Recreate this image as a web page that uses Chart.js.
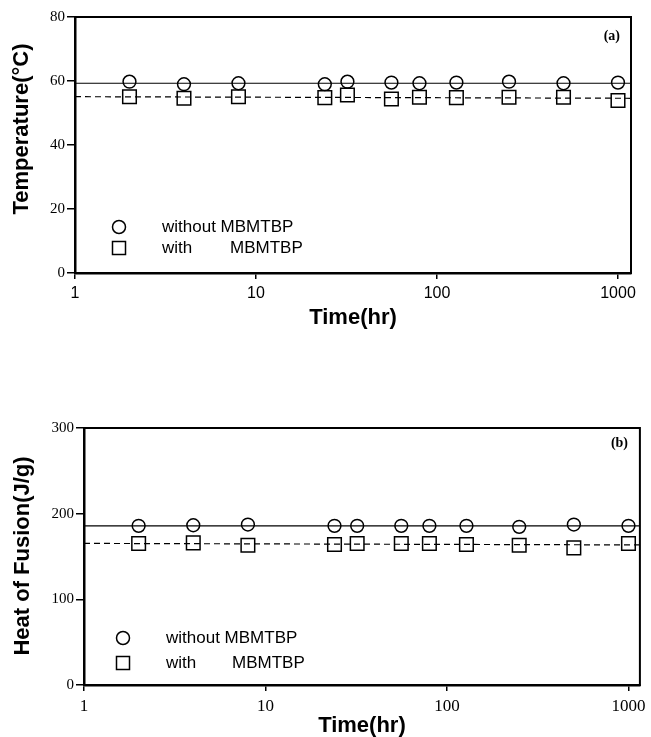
<!DOCTYPE html>
<html lang="en">
<head>
<meta charset="UTF-8">
<title>Temperature and heat of fusion vs time</title>
<script src="https://cdn.jsdelivr.net/npm/chart.js"></script>
<style>
  body { margin: 0; background: #fff; }
  #wrap { position: relative; width: 651px; height: 737px; }
  canvas { position: absolute; left: 0; }
  #chartA { top: 0; }
  #chartB { top: 350px; }
</style>
</head>
<body>
<div id="wrap">
  <canvas id="chartA" width="651" height="350"></canvas>
  <canvas id="chartB" width="651" height="387"></canvas>
</div>
<script>
// aging time (hr), same for both panels
const times = [2, 4, 8, 24, 32, 56, 80, 128, 250, 500, 1000];
const xTicks = [1, 10, 100, 1000];

// (a) melting temperature, deg C
const tempWithout = [59.8, 59.0, 59.3, 59.0, 59.8, 59.5, 59.3, 59.5, 59.8, 59.3, 59.5];
const tempWith    = [55.1, 54.6, 55.1, 54.8, 55.6, 54.4, 54.9, 54.8, 54.9, 54.9, 53.9];
const tempFitX       = [1, 1180];
const tempFitWithout = [59.3, 59.3];
const tempFitWith    = [55.1, 54.6];
const tempTicks = [0, 20, 40, 60, 80];

// (b) heat of fusion, J/g
const heatWithout = [185.8, 186.5, 187.3, 185.8, 185.8, 185.8, 185.8, 185.8, 184.6, 187.3, 185.8];
const heatWith    = [165.2, 165.9, 163.2, 164.0, 165.2, 165.2, 165.2, 164.0, 163.2, 160.1, 165.2];
const heatFitX       = [1, 1156];
const heatFitWithout = [185.8, 185.8];
const heatFitWith    = [165.3, 163.5];
const heatTicks = [0, 100, 200, 300];

const sans = '"Liberation Sans", Arial, Helvetica, sans-serif';
const serif = '"Liberation Serif", "Times New Roman", serif';

const pts = (xs, ys) => xs.map((x, i) => ({ x: x, y: ys[i] }));

// frame, panel tag, rotated y title and the in-plot legend
const decor = {
  id: 'decor',
  afterDraw(chart, args, o) {
    const ctx = chart.ctx;
    const a = chart.chartArea;
    ctx.save();
    ctx.strokeStyle = '#000';
    ctx.fillStyle = '#000';
    ctx.lineWidth = 2;
    ctx.strokeRect(a.left, a.top, a.right - a.left, a.bottom - a.top);

    ctx.font = 'bold 14px ' + serif;
    ctx.textAlign = 'right';
    ctx.textBaseline = 'middle';
    ctx.fillText(o.tag, o.tagX, o.tagY);

    ctx.save();
    ctx.translate(o.yTitleX, o.yTitleY);
    ctx.rotate(-Math.PI / 2);
    ctx.font = 'bold 22px ' + sans;
    ctx.textAlign = 'center';
    ctx.fillText(o.yTitle, 0, 0);
    ctx.restore();

    const L = o.legend;
    ctx.lineWidth = 1.5;
    ctx.beginPath();
    ctx.arc(L.mx, L.y1, 6.5, 0, Math.PI * 2);
    ctx.stroke();
    ctx.strokeRect(L.mx - 6.5, L.y2 - 6.5, 13, 13);
    ctx.font = '17px ' + sans;
    ctx.textAlign = 'left';
    ctx.fillText('without MBMTBP', L.tx, L.y1);
    ctx.fillText('with', L.tx, L.y2);
    ctx.fillText('MBMTBP', L.tx2, L.y2);
    ctx.restore();
  }
};

function makeChart(id, cfg) {
  return new Chart(document.getElementById(id), {
    type: 'scatter',
    data: {
      datasets: [
        { data: pts(cfg.fitX, cfg.fitWithout), showLine: true, pointRadius: 0, borderColor: '#000', borderWidth: 1.2 },
        { data: pts(cfg.fitX, cfg.fitWith), showLine: true, pointRadius: 0, borderColor: '#000', borderWidth: 1.2, borderDash: [6, 4] },
        { label: 'without MBMTBP', data: pts(times, cfg.without), pointStyle: 'circle', pointRadius: 6.4,
          borderColor: '#000', backgroundColor: 'rgba(0,0,0,0)', pointBorderWidth: 1.5 },
        { label: 'with MBMTBP', data: pts(times, cfg.with), pointStyle: 'rect', pointRadius: 9.6,
          borderColor: '#000', backgroundColor: 'rgba(0,0,0,0)', pointBorderWidth: 1.5 }
      ]
    },
    options: {
      responsive: false,
      animation: false,
      layout: { padding: cfg.pad },
      plugins: {
        legend: { display: false },
        tooltip: { enabled: false },
        decor: cfg.decor
      },
      scales: {
        x: {
          type: 'logarithmic', min: 1, max: cfg.fitX[1],
          afterBuildTicks: s => { s.ticks = xTicks.map(v => ({ value: v })); },
          afterFit: s => { s.height = cfg.xHeight; },
          ticks: { color: '#000', font: cfg.xTickFont, padding: 5, maxRotation: 0, autoSkip: false,
                   callback: v => String(v) },
          grid: { drawOnChartArea: false, tickLength: 6, color: '#000', lineWidth: 1.5 },
          border: { color: '#000', width: 2.5 },
          title: { display: true, text: 'Time(hr)', color: '#000',
                   font: { family: sans, size: 22, weight: 'bold', lineHeight: 1 },
                   padding: { top: 0, bottom: cfg.xTitlePad } }
        },
        y: {
          min: 0, max: cfg.yTicks[cfg.yTicks.length - 1],
          afterBuildTicks: s => { s.ticks = cfg.yTicks.map(v => ({ value: v })); },
          afterFit: s => { s.width = cfg.yWidth; },
          ticks: { color: '#000', font: { family: serif, size: 15 }, padding: 2 },
          grid: { drawOnChartArea: false, tickLength: 8, color: '#000', lineWidth: 1.5 },
          border: { color: '#000', width: 2.5 }
        }
      }
    },
    plugins: [decor]
  });
}

makeChart('chartA', {
  without: tempWithout, with: tempWith,
  fitX: tempFitX, fitWithout: tempFitWithout, fitWith: tempFitWith,
  yTicks: tempTicks,
  pad: { left: 0, top: 17, right: 20, bottom: 0 },
  xHeight: 77, yWidth: 75, xTitlePad: 21,
  xTickFont: { family: sans, size: 16 },
  decor: {
    tag: '(a)', tagX: 620, tagY: 36,
    yTitle: 'Temperature(\u00B0C)', yTitleX: 22, yTitleY: 129,
    legend: { mx: 119, y1: 227, y2: 248, tx: 162, tx2: 230 }
  }
});

makeChart('chartB', {
  without: heatWithout, with: heatWith,
  fitX: heatFitX, fitWithout: heatFitWithout, fitWith: heatFitWith,
  yTicks: heatTicks,
  pad: { left: 0, top: 78, right: 10, bottom: 0 },
  xHeight: 52, yWidth: 84, xTitlePad: 0,
  xTickFont: { family: serif, size: 17 },
  decor: {
    tag: '(b)', tagX: 628, tagY: 93,
    yTitle: 'Heat of Fusion(J/g)', yTitleX: 23, yTitleY: 206,
    legend: { mx: 123, y1: 288, y2: 313, tx: 166, tx2: 232 }
  }
});
</script>
</body>
</html>
